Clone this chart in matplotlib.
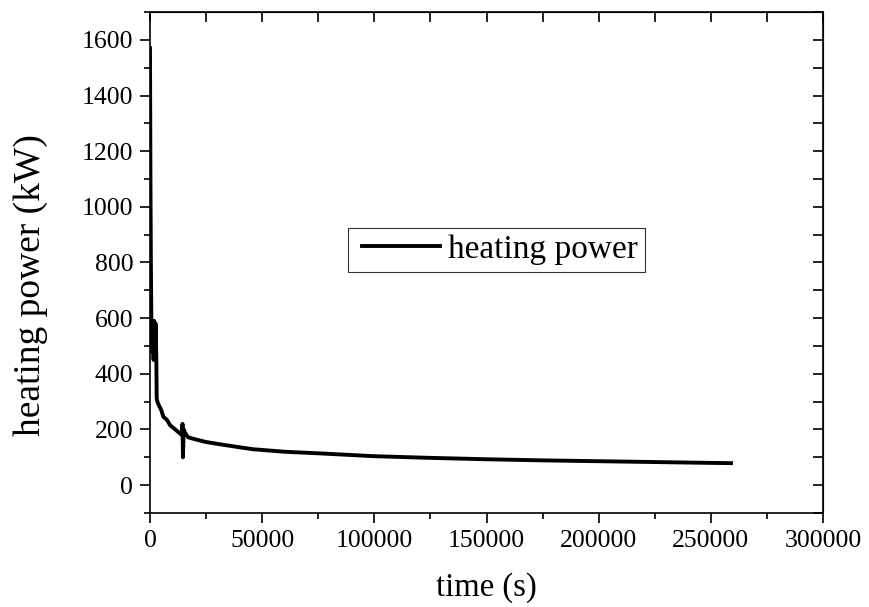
import numpy as np
import matplotlib
matplotlib.use("Agg")
import matplotlib.pyplot as plt
from matplotlib.ticker import MultipleLocator
from matplotlib.legend_handler import HandlerLine2D

# heating power curve (time in s, power in kW)
time_s = [0, 200, 400, 600, 800, 1000, 1300, 1600, 1900, 2200, 2500, 2800,
          3000, 3500, 5000, 6000, 7500, 9000, 10500, 12000, 13500, 14200,
          14500, 14700, 15000, 15500, 17000, 20000, 25000, 31000, 40000,
          46000, 60000, 76000, 100000, 125000, 150000, 175000, 200000,
          225000, 250000, 259000]
power_kw = [1570, 1100, 800, 600, 560, 480, 585, 450, 590, 460, 580, 470,
            310, 295, 270, 245, 235, 215, 205, 195, 185, 180,
            220, 100, 200, 190, 172, 165, 155, 147, 136,
            129, 120, 114, 104, 98, 93, 89, 86,
            83, 80, 79]

plt.rcParams["font.family"] = ["Liberation Serif", "DejaVu Serif"]

fig = plt.figure(figsize=(8.7, 6.07), dpi=100)
ax = fig.add_axes([0.1724, 0.1549, 0.7736, 0.8253])

line, = ax.plot(time_s, power_kw, color="black", linewidth=2.8,
                label="heating power", solid_joinstyle="round")

ax.set_xlim(0, 300000)
ax.set_ylim(-100, 1700)
ax.xaxis.set_major_locator(MultipleLocator(50000))
ax.xaxis.set_minor_locator(MultipleLocator(25000))
ax.yaxis.set_major_locator(MultipleLocator(200))
ax.yaxis.set_minor_locator(MultipleLocator(100))

for sp in ax.spines.values():
    sp.set_linewidth(1.2)

ax.tick_params(which="major", direction="out", length=7, width=1.2,
               labelsize=18.5, pad=5)
ax.tick_params(which="minor", direction="out", length=4, width=1.2)

# top and right axes: inward ticks, no labels
top = ax.secondary_xaxis("top")
top.xaxis.set_major_locator(MultipleLocator(25000))
top.tick_params(direction="in", length=7, width=1.2, labeltop=False)
right = ax.secondary_yaxis("right")
right.yaxis.set_major_locator(MultipleLocator(100))
right.tick_params(direction="in", length=7, width=1.2, labelright=False)

ax.set_xlabel("time (s)", fontsize=23.5, labelpad=15)
ax.set_ylabel("heating power (kW)", fontsize=27)
ax.yaxis.set_label_coords(-0.151, 0.455)

leg = ax.legend(loc="upper left", bbox_to_anchor=(0.294, 0.569), fontsize=24,
                frameon=True, fancybox=False, edgecolor="black",
                handlelength=2.56, handletextpad=0.25, borderpad=0.2,
                borderaxespad=0, handler_map={line: HandlerLine2D(xpad=0.22)})
leg.get_frame().set_linewidth(0.8)

fig.savefig("out.png", dpi=100)
